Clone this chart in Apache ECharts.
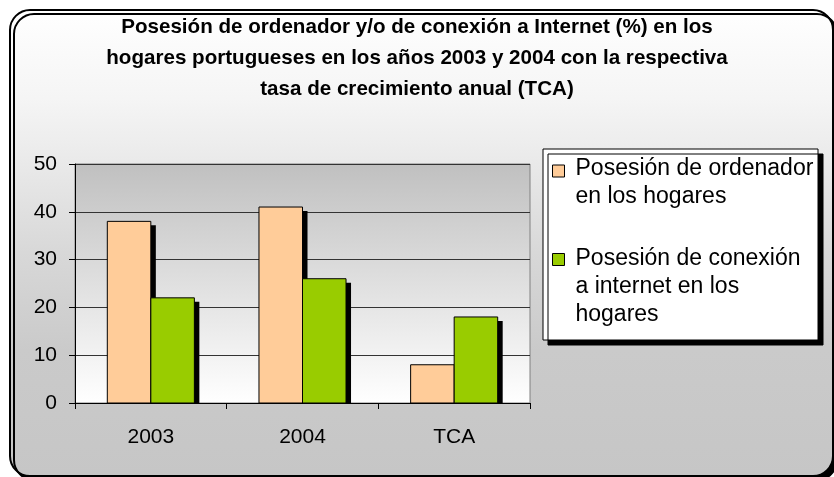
<!DOCTYPE html>
<html>
<head>
<meta charset="utf-8">
<script src="https://cdn.jsdelivr.net/npm/echarts@6/dist/echarts.min.js"></script>
<style>html,body{margin:0;padding:0;background:#fff}#c{width:834px;height:477px}</style>
</head>
<body>
<div id="c"></div>
<script>
const titleText = 'Posesión de ordenador y/o de conexión a Internet (%) en los\nhogares portugueses en los años 2003 y 2004 con la respectiva\ntasa de crecimiento anual (TCA)';
const categories = ['2003', '2004', 'TCA'];
const seriesNames = ['Posesión de ordenador\nen los hogares', 'Posesión de conexión\na internet en los\nhogares'];
const ordenadorValues = [38, 41, 8];
const conexionValues = [22, 26, 18];
const yTicks = [0, 10, 20, 30, 40, 50];
const colors = ['#ffcc99', '#99cc00'];

const FONT = "'Liberation Sans', Arial, sans-serif";
const chart = echarts.init(document.getElementById('c'));

function makeRender(idx, color) {
  return function (params, api) {
    const ci = api.value(0);
    const v = api.value(1);
    const top = api.coord([ci, v]);
    const base = api.coord([ci, 0]);
    const catW = api.size([1, 0])[0];
    const barW = catW * 0.287;
    const x = top[0] - barW + idx * barW;
    const h = base[1] - top[1];
    return {
      type: 'group',
      children: [
        { type: 'rect', shape: { x: x + 5, y: top[1] + 4, width: barW, height: Math.max(0, h - 4) }, style: { fill: '#000' } },
        { type: 'rect', shape: { x: x, y: top[1], width: barW, height: h }, style: { fill: color, stroke: '#000', lineWidth: 1 } }
      ]
    };
  };
}

function legendFormatter(spacer) {
  return function (name) {
    return '{s| }\n' + name.split('\n').map(l => '{a|' + l + '}').join('\n');
  };
}
function legendRich(spacer) {
  return {
    s: { fontSize: 4, lineHeight: spacer, height: spacer },
    a: { fontFamily: FONT, fontSize: 23, lineHeight: 28, color: '#000', padding: [0, 0, 0, 6] }
  };
}

const legendCommon = {
  orient: 'vertical', left: 552, padding: 0, itemWidth: 12, itemHeight: 12, icon: 'rect',
  selectedMode: false,
  itemStyle: { borderColor: '#000', borderWidth: 1 }
};

chart.setOption({
  animation: false,
  textStyle: { fontFamily: FONT },
  graphic: [
    {
      type: 'rect', z: -100,
      shape: { x: 10, y: 10, width: 823, height: 466, r: 20 },
      style: {
        fill: new echarts.graphic.LinearGradient(0, 0, 0, 1, [
          { offset: 0, color: '#ffffff' },
          { offset: 0.19, color: '#f5f5f5' },
          { offset: 0.3, color: '#ececec' },
          { offset: 0.52, color: '#d8d8d8' },
          { offset: 0.73, color: '#cacaca' },
          { offset: 1, color: '#c6c6c6' }
        ]),
        stroke: '#000', lineWidth: 2,
        shadowColor: '#000', shadowOffsetX: 4, shadowOffsetY: 4, shadowBlur: 0
      }
    },
    {
      type: 'rect', z: 1,
      shape: { x: 543, y: 149, width: 275, height: 191 },
      style: { fill: '#fff', stroke: '#000', lineWidth: 1, shadowColor: '#000', shadowOffsetX: 5, shadowOffsetY: 5, shadowBlur: 0 }
    }
  ],
  title: {
    text: titleText, left: 'center', top: 12, padding: 0,
    textStyle: { fontFamily: FONT, fontSize: 20.6, fontWeight: 'bold', lineHeight: 31, color: '#000' }
  },
  legend: [
    Object.assign({}, legendCommon, {
      top: 131, data: [seriesNames[0]], formatter: legendFormatter(24),
      textStyle: { rich: legendRich(24) }
    }),
    Object.assign({}, legendCommon, {
      top: 190.5, data: [seriesNames[1]], formatter: legendFormatter(54),
      textStyle: { rich: legendRich(54) }
    })
  ],
  grid: {
    left: 75, top: 164, right: 304, bottom: 74, show: true,
    backgroundColor: new echarts.graphic.LinearGradient(0, 0, 0, 1, [
      { offset: 0, color: '#c0c0c0' },
      { offset: 1, color: '#ffffff' }
    ]),
    borderColor: '#808080', borderWidth: 1
  },
  xAxis: {
    type: 'category', data: categories,
    axisLine: { lineStyle: { color: '#000', width: 1 } },
    axisTick: { show: true, length: 6, lineStyle: { color: '#000' } },
    axisLabel: { fontSize: 21, color: '#000', margin: 24, fontFamily: FONT }
  },
  yAxis: {
    type: 'value', min: yTicks[0], max: yTicks[yTicks.length - 1], interval: 10,
    axisLine: { show: true, lineStyle: { color: '#000', width: 1 } },
    axisTick: { show: true, length: 6, lineStyle: { color: '#000' } },
    splitLine: { lineStyle: { color: '#333', width: 1 } },
    axisLabel: { fontSize: 21, color: '#000', margin: 18, fontFamily: FONT }
  },
  series: [
    {
      name: seriesNames[0], type: 'custom', itemStyle: { color: colors[0] },
      encode: { x: 0, y: 1 },
      data: ordenadorValues.map((v, i) => [i, v]),
      renderItem: makeRender(0, colors[0])
    },
    {
      name: seriesNames[1], type: 'custom', itemStyle: { color: colors[1] },
      encode: { x: 0, y: 1 },
      data: conexionValues.map((v, i) => [i, v]),
      renderItem: makeRender(1, colors[1])
    }
  ]
});
</script>
</body>
</html>
